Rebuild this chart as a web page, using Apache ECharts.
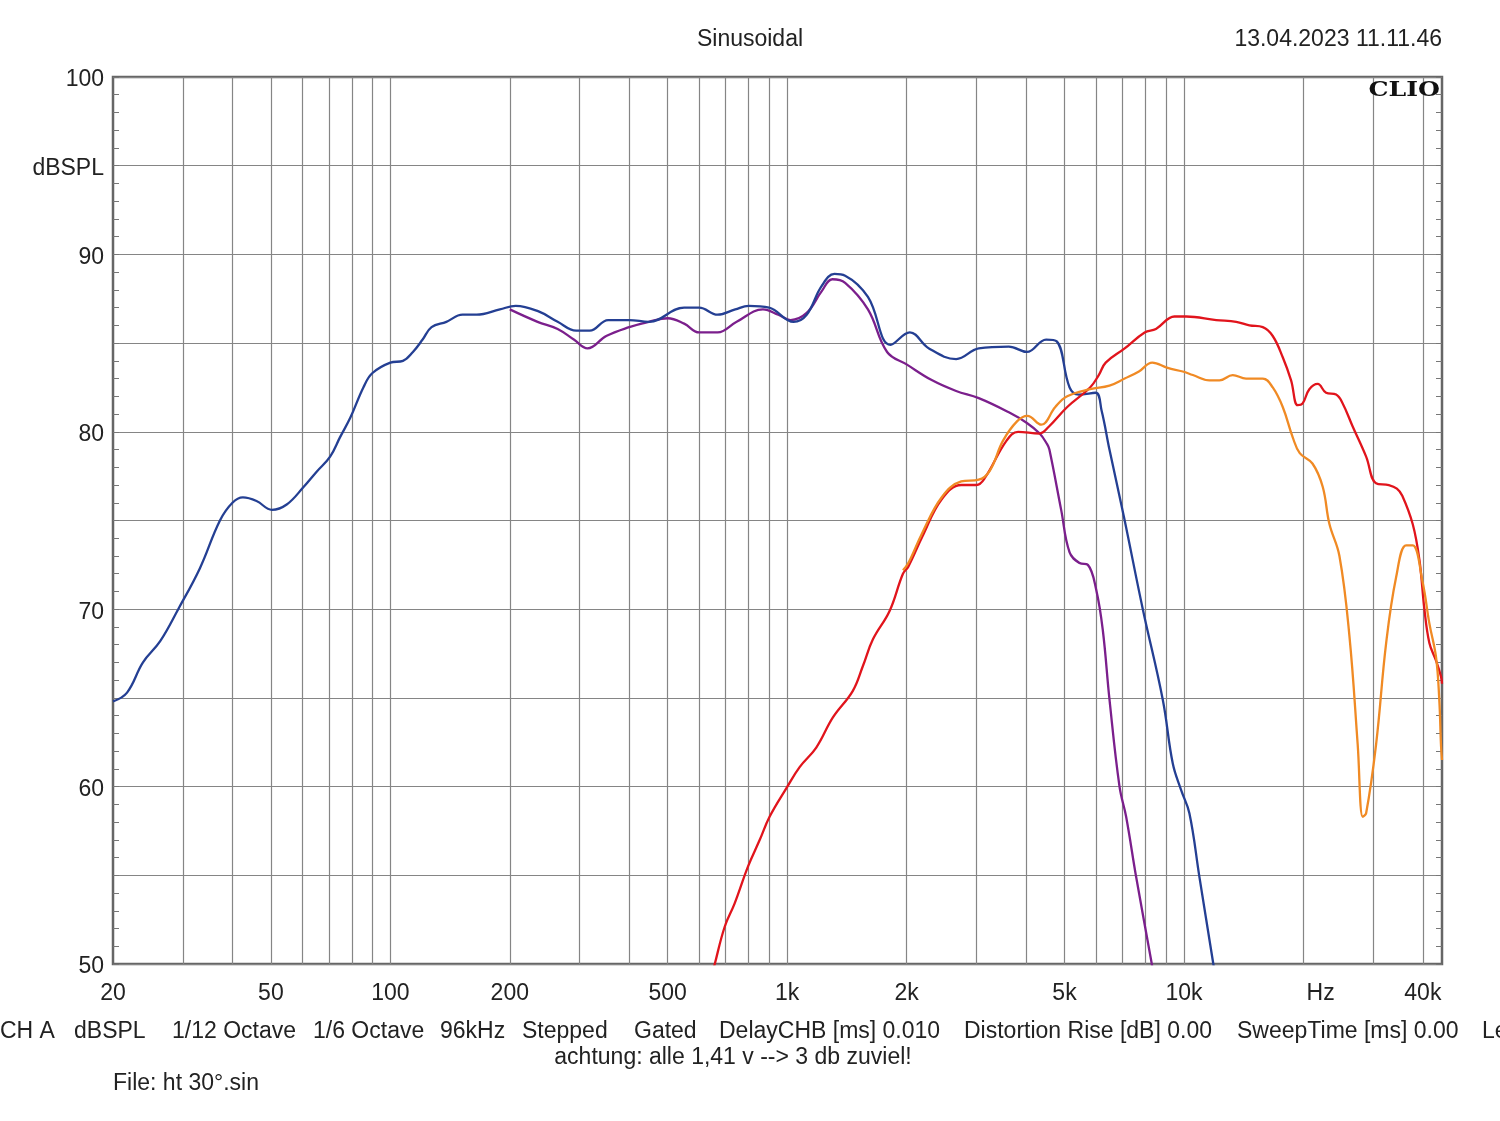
<!DOCTYPE html>
<html><head><meta charset="utf-8">
<script src="https://cdn.jsdelivr.net/npm/echarts@6/dist/echarts.min.js"></script>
<style>html,body{margin:0;padding:0;background:#fff;}#chart{width:1500px;height:1121px;}</style>
</head><body><div id="chart"></div>
<script>
// ---- data (frequency in Hz, level in dBSPL) ----
const blueFreq = [20,21.7,23.8,26.3,29.2,33.1,37.2,40,42.5,46,50.3,54.8,60.5,65.2,70.5,74.7,79.3,85.5,90,100,107.6,114,120.6,127,138.4,152,165,188.8,207,235.6,264,294,318,354,400,448,550,600,668,740,800,900,1038,1120,1220,1316,1400,1598,1822,2038,2277,2666,3040,3620,4020,4494,4780,5150,5430,5990,6200,6490,7060,7876,8844,9372,9838,10320,10940,11820,12000];
const blueDb   = [64.8,65.3,67.0,68.2,70.0,72.3,75.0,76.0,76.3,76.1,75.6,75.9,76.9,77.75,78.6,79.7,80.8,82.5,83.3,83.9,84.0,84.5,85.2,85.9,86.2,86.6,86.6,86.9,87.1,86.8,86.2,85.7,85.7,86.3,86.3,86.2,87.0,87.0,86.6,86.9,87.1,87.0,86.2,86.6,88.2,88.9,88.8,87.6,84.9,85.6,84.7,84.1,84.7,84.8,84.5,85.2,85.1,82.5,82.1,82.2,81.2,79.0,75.2,70.0,64.9,61.3,59.8,58.5,54.9,50.2,49.3];

const purpleFreq = [200,235,264,290,314,350,400,448,500,550,600,668,746,869,950,1020,1120,1220,1300,1400,1598,1786,2000,2320,2666,3040,3620,4020,4330,4520,4580,4904,5150,5456,5726,6010,6246,6492,6880,7150,7578,8268,8400];
const purpleDb   = [86.9,86.2,85.8,85.2,84.7,85.4,85.9,86.2,86.4,86.1,85.6,85.6,86.2,86.9,86.6,86.3,86.7,87.9,88.6,88.4,86.9,84.5,83.8,82.9,82.3,81.9,81.1,80.5,79.9,79.3,79.0,75.6,73.2,72.6,72.5,71.1,68.8,64.9,60.0,58.3,54.9,50.2,49.3];

const redFreq = [640,657,696,737,797,853,903,995,1075,1184,1304,1464,1552,1645,1812,1958,2020,2192,2452,2746,3000,3150,3572,3820,4320,4570,5080,5800,6100,6350,7090,7960,8500,9463,10130,12060,13540,14620,15800,16740,17740,18620,19340,19910,20700,21730,22810,24180,25120,26620,28780,30480,32830,34400,35500,37710,39200,40360,41540,43180,44450,44700];
const redDb   = [49.0,50.0,52.1,53.4,55.5,57.0,58.3,59.9,61.1,62.2,63.9,65.4,66.8,68.3,69.9,72.0,72.4,74.1,76.2,77.0,77.0,77.4,79.5,80.0,79.9,80.3,81.4,82.5,83.2,83.9,84.7,85.6,85.8,86.5,86.5,86.3,86.2,86.0,85.9,85.4,84.2,82.9,81.5,81.6,82.4,82.7,82.2,82.1,81.6,80.3,78.6,77.1,77.0,76.8,76.4,74.8,72.8,70.0,68.1,67.1,66.2,65.8];

const orangeFreq = [1958,2020,2190,2450,2746,3040,3240,3500,3800,4030,4370,4740,5080,5800,6490,7090,7700,8320,9100,9930,10530,11600,12290,13270,14340,15800,16740,17740,18790,19580,21100,22370,23260,24650,26120,27400,28220,28780,30500,32330,34250,36300,37710,39960,41540,43180,44000,44450,44700];
const orangeDb   = [72.2,72.6,74.3,76.3,77.2,77.3,77.8,79.5,80.6,80.9,80.4,81.4,82.0,82.4,82.6,83.0,83.4,83.9,83.6,83.4,83.2,82.9,82.9,83.2,83.0,83.0,82.5,81.4,79.7,78.8,78.2,76.9,74.8,73.0,68.5,62.4,58.3,58.5,62.4,68.1,71.8,73.6,73.6,71.5,69.2,67.3,64.9,62.3,61.5];

// ---- axis ticks / labels ----
const gridFreqs = [30,40,50,60,70,80,90,100,200,300,400,500,600,700,800,900,1000,2000,3000,4000,5000,6000,7000,8000,9000,10000,20000,30000,40000];
const xLabelFreqs = [20,50,100,200,500,1000,2000,5000,10000,22100,40000];
const xLabelTexts = ['20','50','100','200','500','1k','2k','5k','10k','Hz','40k'];
const yLabelValues = [100,95,90,80,70,60,50];
const yLabelTexts  = ['100','dBSPL','90','80','70','60','50'];
const xMinFreq = 20, xMaxFreq = 44700;

// ---- texts ----
const titleText = 'Sinusoidal';
const dateText = '13.04.2023 11.11.46';
const brandText = 'CLIO';
const infoTexts = ['CH A','dBSPL','1/12 Octave','1/6 Octave','96kHz','Stepped','Gated','DelayCHB [ms] 0.010','Distortion Rise [dB] 0.00','SweepTime [ms] 0.00','Le'];
const infoX = [0,74,172,313,440,522,634,719,964,1237,1482];
const noteText = 'achtung: alle 1,41 v --> 3 db zuviel!';
const fileText = 'File: ht 30°.sin';

const L = Math.log10;
function pts(fs, ds){ return fs.map((f,i)=>[L(f), ds[i]]); }

const FONT = '"Liberation Sans", Arial, sans-serif';
const GRID = '#858585';
const TXT = '#222';

const chart = echarts.init(document.getElementById('chart'), null, {renderer:'canvas'});

const lineBase = {type:'line', showSymbol:false, symbol:'none', smooth:0.4, clip:true, silent:true, animation:false};

function txt(x, y, text, align, font){
  return {type:'text', x:x, y:y, style:{text:text, font:font || ('23px '+FONT), fill:TXT, align:align, verticalAlign:'middle', textAlign:align, textVerticalAlign:'middle'}};
}

const graphics = [
  txt(750, 40, titleText, 'center'),
  txt(1442, 40, dateText, 'right'),
  {type:'text', x:1440, y:91, scaleX:1.2, originX:0, originY:0, z:10, style:{text:brandText, font:'bold 21px "DejaVu Serif", serif', fill:'#111', align:'right', verticalAlign:'middle', textAlign:'right', textVerticalAlign:'middle'}},
  txt(733, 1058, noteText, 'center'),
  txt(113, 1084, fileText, 'left')
];
infoTexts.forEach((t,i)=>{ graphics.push(txt(infoX[i], 1032, t, 'left')); });

const yAxisCommon = {
  type:'value', min:50, max:100, interval:5,
  axisLine:{show:false},
  axisTick:{show:true, inside:true, length:6, lineStyle:{color:'#777', width:1}},
  minorTick:{show:true, splitNumber:5, length:6, lineStyle:{color:'#777', width:1}},
};

const option = {
  animation:false,
  backgroundColor:'#fff',
  grid:{left:113, top:77, right:58, bottom:157, show:true, borderColor:'#666', borderWidth:2.5, backgroundColor:'transparent'},
  xAxis:{
    type:'value', min:L(xMinFreq), max:L(xMaxFreq),
    axisLine:{show:false},
    splitLine:{show:false},
    axisTick:{show:true, inside:true, length:887, customValues:gridFreqs.map(L), lineStyle:{color:GRID, width:1.2}},
    axisLabel:{show:true, customValues:xLabelFreqs.map(L), margin:18, fontSize:23, fontFamily:FONT, color:TXT,
      formatter:function(v){ for(let i=0;i<xLabelFreqs.length;i++){ if(Math.abs(L(xLabelFreqs[i])-v)<1e-6) return xLabelTexts[i]; } return ''; }}
  },
  yAxis:[
    Object.assign({}, yAxisCommon, {
      position:'left',
      splitLine:{show:true, lineStyle:{color:GRID, width:1.2}},
      axisLabel:{show:true, margin:9, fontSize:23, fontFamily:FONT, color:TXT,
        rich:{v:{fontSize:23, fontFamily:FONT, color:TXT, padding:[6,0,0,0]}},
        formatter:function(v){ const i = yLabelValues.indexOf(v); return i>=0 ? '{v|' + yLabelTexts[i] + '}' : ''; }}
    }),
    Object.assign({}, yAxisCommon, {
      position:'right',
      splitLine:{show:false},
      axisLabel:{show:false}
    })
  ],
  graphic: graphics,
  series:[
    Object.assign({}, lineBase, {name:'purple', data:pts(purpleFreq,purpleDb), lineStyle:{color:'#7b1f8c', width:2.3}, z:3}),
    Object.assign({}, lineBase, {name:'blue', data:pts(blueFreq,blueDb), lineStyle:{color:'#243f93', width:2.3}, z:4}),
    Object.assign({}, lineBase, {name:'red', data:pts(redFreq,redDb), lineStyle:{color:'#e1141c', width:2.3}, z:5}),
    Object.assign({}, lineBase, {name:'orange', data:pts(orangeFreq,orangeDb), lineStyle:{color:'#f08a24', width:2.3}, z:6})
  ]
};
chart.setOption(option);
</script>
</body></html>
